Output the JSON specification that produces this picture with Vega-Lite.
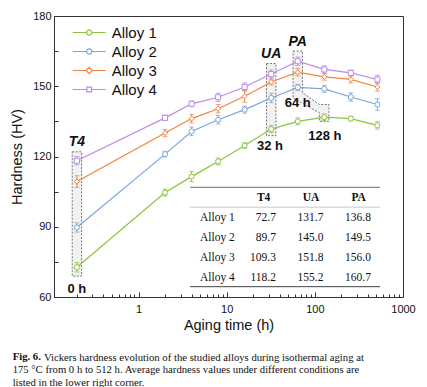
{
  "$schema": "https://vega.github.io/schema/vega-lite/v6.json",
  "width": 349,
  "height": 281,
  "autosize": {"type": "none"},
  "padding": {"left": 54, "top": 16, "right": 24, "bottom": 90},
  "background": "white",
  "config": {
    "font": "Liberation Sans",
    "view": {"stroke": "#333333", "strokeWidth": 1},
    "axis": {"domainColor": "#333333", "tickColor": "#333333", "labelColor": "#111111", "titleColor": "#111111", "grid": false, "labelFont": "Liberation Sans", "titleFont": "Liberation Sans", "titleFontWeight": "normal"}
  },
  "title": {
    "text": "Fig. 6.",
    "subtitle": [
      "\u200b\u00a0\u00a0\u00a0\u00a0\u00a0\u00a0\u00a0\u00a0\u00a0\u00a0\u2009 Vickers hardness evolution of the studied alloys during isothermal aging at",
      "175 °C from 0 h to 512 h. Average hardness values under different conditions are",
      "listed in the lower right corner."
    ],
    "orient": "bottom",
    "anchor": "start",
    "frame": "bounds",
    "font": "Liberation Serif",
    "fontSize": 10.7,
    "fontWeight": "bold",
    "color": "#111111",
    "subtitleFont": "Liberation Serif",
    "subtitleFontSize": 10.7,
    "subtitleColor": "#111111",
    "subtitleLineHeight": 12.5,
    "subtitlePadding": -9.5,
    "offset": 20,
    "dx": 3
  },
  "datasets": {
    "hardness": [
      {"alloy": "Alloy 1", "t": 0.2, "hv": 72.7, "err": 2.0},
      {"alloy": "Alloy 1", "t": 2, "hv": 104.6, "err": 1.5},
      {"alloy": "Alloy 1", "t": 4, "hv": 111.4, "err": 2.2},
      {"alloy": "Alloy 1", "t": 8, "hv": 117.9, "err": 1.5},
      {"alloy": "Alloy 1", "t": 16, "hv": 124.7, "err": 1.2},
      {"alloy": "Alloy 1", "t": 32, "hv": 131.7, "err": 1.5},
      {"alloy": "Alloy 1", "t": 64, "hv": 135.0, "err": 1.5},
      {"alloy": "Alloy 1", "t": 128, "hv": 136.8, "err": 1.4},
      {"alloy": "Alloy 1", "t": 256, "hv": 136.2, "err": 1.0},
      {"alloy": "Alloy 1", "t": 512, "hv": 133.3, "err": 1.6},
      {"alloy": "Alloy 2", "t": 0.2, "hv": 89.7, "err": 2.0},
      {"alloy": "Alloy 2", "t": 2, "hv": 121.0, "err": 1.2},
      {"alloy": "Alloy 2", "t": 4, "hv": 130.7, "err": 1.8},
      {"alloy": "Alloy 2", "t": 8, "hv": 135.7, "err": 1.8},
      {"alloy": "Alloy 2", "t": 16, "hv": 140.0, "err": 1.5},
      {"alloy": "Alloy 2", "t": 32, "hv": 145.0, "err": 2.0},
      {"alloy": "Alloy 2", "t": 64, "hv": 149.5, "err": 1.3},
      {"alloy": "Alloy 2", "t": 128, "hv": 148.9, "err": 1.5},
      {"alloy": "Alloy 2", "t": 256, "hv": 145.4, "err": 1.8},
      {"alloy": "Alloy 2", "t": 512, "hv": 142.2, "err": 2.5},
      {"alloy": "Alloy 3", "t": 0.2, "hv": 109.3, "err": 2.5},
      {"alloy": "Alloy 3", "t": 2, "hv": 130.0, "err": 1.5},
      {"alloy": "Alloy 3", "t": 4, "hv": 136.2, "err": 1.8},
      {"alloy": "Alloy 3", "t": 8, "hv": 140.4, "err": 1.8},
      {"alloy": "Alloy 3", "t": 16, "hv": 145.7, "err": 2.5},
      {"alloy": "Alloy 3", "t": 32, "hv": 151.8, "err": 1.2},
      {"alloy": "Alloy 3", "t": 64, "hv": 156.0, "err": 1.6},
      {"alloy": "Alloy 3", "t": 128, "hv": 154.0, "err": 1.4},
      {"alloy": "Alloy 3", "t": 256, "hv": 152.9, "err": 1.5},
      {"alloy": "Alloy 3", "t": 512, "hv": 149.7, "err": 1.8},
      {"alloy": "Alloy 4", "t": 0.2, "hv": 118.2, "err": 1.8},
      {"alloy": "Alloy 4", "t": 2, "hv": 136.5, "err": 1.2},
      {"alloy": "Alloy 4", "t": 4, "hv": 142.5, "err": 1.2},
      {"alloy": "Alloy 4", "t": 8, "hv": 145.3, "err": 1.8},
      {"alloy": "Alloy 4", "t": 16, "hv": 149.7, "err": 1.8},
      {"alloy": "Alloy 4", "t": 32, "hv": 155.2, "err": 1.8},
      {"alloy": "Alloy 4", "t": 64, "hv": 160.7, "err": 1.8},
      {"alloy": "Alloy 4", "t": 128, "hv": 157.2, "err": 1.5},
      {"alloy": "Alloy 4", "t": 256, "hv": 155.7, "err": 1.2},
      {"alloy": "Alloy 4", "t": 512, "hv": 152.9, "err": 1.8}
    ],
    "boxes": [
      {"box": "T4", "i": 1, "t": 0.177, "hv": 122.0},
      {"box": "T4", "i": 2, "t": 0.226, "hv": 122.0},
      {"box": "T4", "i": 3, "t": 0.226, "hv": 68.9},
      {"box": "T4", "i": 4, "t": 0.177, "hv": 68.9},
      {"box": "T4", "i": 5, "t": 0.177, "hv": 122.0},
      {"box": "UA", "i": 1, "t": 28.3, "hv": 159.7},
      {"box": "UA", "i": 2, "t": 36.2, "hv": 159.7},
      {"box": "UA", "i": 3, "t": 36.2, "hv": 128.9},
      {"box": "UA", "i": 4, "t": 28.3, "hv": 128.9},
      {"box": "UA", "i": 5, "t": 28.3, "hv": 159.7},
      {"box": "PA", "i": 1, "t": 56.6, "hv": 165.0},
      {"box": "PA", "i": 2, "t": 72.4, "hv": 165.0},
      {"box": "PA", "i": 3, "t": 72.4, "hv": 147.2},
      {"box": "PA", "i": 4, "t": 113.2, "hv": 142.2},
      {"box": "PA", "i": 5, "t": 144.6, "hv": 142.2},
      {"box": "PA", "i": 6, "t": 144.6, "hv": 135.0},
      {"box": "PA", "i": 7, "t": 113.2, "hv": 135.0},
      {"box": "PA", "i": 8, "t": 113.2, "hv": 138.6},
      {"box": "PA", "i": 9, "t": 56.6, "hv": 145.0},
      {"box": "PA", "i": 10, "t": 56.6, "hv": 165.0}
    ],
    "notes": [
      {"label": "T4", "kind": "condition", "t": 0.2, "hv": 126.0},
      {"label": "UA", "kind": "condition", "t": 32, "hv": 163.6},
      {"label": "PA", "kind": "condition", "t": 64, "hv": 168.9},
      {"label": "0 h", "kind": "time", "t": 0.2, "hv": 63.6},
      {"label": "32 h", "kind": "time", "t": 31, "hv": 124.3},
      {"label": "64 h", "kind": "time", "t": 64, "hv": 142.9},
      {"label": "128 h", "kind": "time", "t": 130, "hv": 128.9}
    ],
    "table": [
      {"row": "Alloy 1", "col": "T4", "v": 72.7},
      {"row": "Alloy 1", "col": "UA", "v": 131.7},
      {"row": "Alloy 1", "col": "PA", "v": 136.8},
      {"row": "Alloy 2", "col": "T4", "v": 89.7},
      {"row": "Alloy 2", "col": "UA", "v": 145.0},
      {"row": "Alloy 2", "col": "PA", "v": 149.5},
      {"row": "Alloy 3", "col": "T4", "v": 109.3},
      {"row": "Alloy 3", "col": "UA", "v": 151.8},
      {"row": "Alloy 3", "col": "PA", "v": 156.0},
      {"row": "Alloy 4", "col": "T4", "v": 118.2},
      {"row": "Alloy 4", "col": "UA", "v": 155.2},
      {"row": "Alloy 4", "col": "PA", "v": 160.7}
    ],
    "tableRows": [{"row": "Alloy 1"}, {"row": "Alloy 2"}, {"row": "Alloy 3"}, {"row": "Alloy 4"}],
    "tableCols": [{"col": "T4"}, {"col": "UA"}, {"col": "PA"}],
    "one": [{"k": 1}]
  },
  "layer": [
    {
      "encoding": {
        "x": {
          "field": "t", "type": "quantitative", "title": "Aging time (h)",
          "scale": {"type": "log", "domain": [0.11, 1000], "nice": false},
          "axis": {
            "values": [0.2, 0.3, 0.4, 0.5, 0.6, 0.7, 0.8, 0.9, 1, 2, 3, 4, 5, 6, 7, 8, 9, 10, 20, 30, 40, 50, 60, 70, 80, 90, 100, 200, 300, 400, 500, 600, 700, 800, 900, 1000],
            "labelExpr": "(datum.value == 1 || datum.value == 10 || datum.value == 100 || datum.value == 1000) ? format(datum.value, 'd') : ''",
            "tickSize": {"condition": {"test": "datum.value == 1 || datum.value == 10 || datum.value == 100 || datum.value == 1000", "value": -5}, "value": -3},
            "labelOverlap": false, "labelFlush": false, "labelFontSize": 11, "labelPadding": 11,
            "titleFontSize": 14.5, "titlePadding": 2
          }
        },
        "y": {
          "field": "hv", "type": "quantitative", "title": "Hardness (HV)",
          "scale": {"domain": [60, 180], "nice": false, "zero": false},
          "axis": {
            "values": [60, 75, 90, 105, 120, 135, 150, 165, 180],
            "labelExpr": "datum.value % 30 == 0 ? format(datum.value, 'd') : ''",
            "tickSize": -4, "labelOverlap": false, "labelFlush": false, "labelFontSize": 11, "labelPadding": 7,
            "titleFontSize": 14.5, "titlePadding": 8
          }
        }
      },
      "layer": [
        {
          "data": {"name": "boxes"},
          "mark": {"type": "line", "stroke": "#555555", "strokeWidth": 0.8, "strokeDash": [2, 1.5], "fill": "#f1f1f1"},
          "encoding": {"detail": {"field": "box"}, "order": {"field": "i", "type": "quantitative"}}
        },
        {
          "data": {"name": "hardness"},
          "mark": {"type": "line", "strokeWidth": 1.2},
          "encoding": {
            "color": {"field": "alloy", "type": "nominal", "scale": {"domain": ["Alloy 1", "Alloy 2", "Alloy 3", "Alloy 4"], "range": ["#8cc43c", "#7aa6dc", "#f5823c", "#b98de6"]}, "legend": null}
          }
        },
        {
          "data": {"name": "hardness"},
          "mark": {"type": "errorbar", "ticks": {"size": 5}, "thickness": 1},
          "encoding": {
            "yError": {"field": "err"},
            "color": {"field": "alloy", "type": "nominal", "scale": {"domain": ["Alloy 1", "Alloy 2", "Alloy 3", "Alloy 4"], "range": ["#8cc43c", "#7aa6dc", "#f5823c", "#b98de6"]}, "legend": null}
          }
        },
        {
          "data": {"name": "hardness"},
          "mark": {"type": "point", "filled": false, "fill": "white", "fillOpacity": 1, "opacity": 1, "size": 26, "strokeWidth": 1},
          "encoding": {
            "stroke": {"field": "alloy", "type": "nominal", "scale": {"domain": ["Alloy 1", "Alloy 2", "Alloy 3", "Alloy 4"], "range": ["#8cc43c", "#7aa6dc", "#f5823c", "#b98de6"]}, "legend": null},
            "shape": {"field": "alloy", "type": "nominal", "scale": {"domain": ["Alloy 1", "Alloy 2", "Alloy 3", "Alloy 4"], "range": ["circle", "circle", "diamond", "square"]}, "legend": null}
          }
        },
        {
          "data": {"name": "hardness"},
          "transform": [{"filter": "false"}],
          "mark": {"type": "point", "filled": false, "opacity": 1, "strokeWidth": 1.2},
          "encoding": {
            "stroke": {"field": "alloy", "type": "nominal", "scale": {"domain": ["Alloy 1", "Alloy 2", "Alloy 3", "Alloy 4"], "range": ["#8cc43c", "#7aa6dc", "#f5823c", "#b98de6"]},
              "legend": {"title": null, "orient": "top-left", "offset": 9, "symbolOffset": 18.7, "labelFont": "Liberation Sans", "labelFontSize": 15, "labelColor": "#111111", "symbolSize": 121, "symbolStrokeWidth": 1.2, "rowPadding": 3, "labelOffset": 15, "padding": 0}},
            "shape": {"field": "alloy", "type": "nominal",
              "scale": {"domain": ["Alloy 1", "Alloy 2", "Alloy 3", "Alloy 4"], "range": [
                "M-3,0H-0.47M0.47,0H3M0.47,0A0.47,0.47 0 1 1 -0.47,0A0.47,0.47 0 1 1 0.47,0Z",
                "M-3,0H-0.47M0.47,0H3M0.47,0A0.47,0.47 0 1 1 -0.47,0A0.47,0.47 0 1 1 0.47,0Z",
                "M-3,0H-0.58M0.58,0H3M0,-0.58L0.58,0L0,0.58L-0.58,0Z",
                "M-3,0H-0.42M0.42,0H3M-0.42,-0.42H0.42V0.42H-0.42Z"
              ]},
              "legend": {"title": null, "orient": "top-left", "offset": 9, "symbolOffset": 18.7, "labelFont": "Liberation Sans", "labelFontSize": 15, "labelColor": "#111111", "symbolSize": 121, "symbolStrokeWidth": 1.2, "rowPadding": 3, "labelOffset": 15, "padding": 0}}
          }
        },
        {
          "data": {"name": "notes"},
          "transform": [{"filter": "datum.kind == 'condition'"}],
          "mark": {"type": "text", "font": "Liberation Sans", "fontSize": 14, "fontWeight": "bold", "fontStyle": "italic", "color": "#111111", "baseline": "middle", "align": "center"},
          "encoding": {"text": {"field": "label"}}
        },
        {
          "data": {"name": "notes"},
          "transform": [{"filter": "datum.kind == 'time'"}],
          "mark": {"type": "text", "font": "Liberation Sans", "fontSize": 13, "fontWeight": "bold", "color": "#111111", "baseline": "middle", "align": "center"},
          "encoding": {"text": {"field": "label"}}
        }
      ],
      "resolve": {"scale": {"shape": "independent", "stroke": "independent"}}
    },
    {
      "encoding": {
        "x": {"field": "col", "type": "nominal", "axis": null,
          "scale": {"type": "band", "domain": ["label", "T4", "UA", "PA"], "paddingInner": 0, "paddingOuter": 0, "range": [{"expr": "width * 0.3897"}, {"expr": "width * 0.9341"}]}},
        "y": {"field": "row", "type": "nominal", "axis": null,
          "scale": {"type": "band", "domain": ["head", "Alloy 1", "Alloy 2", "Alloy 3", "Alloy 4"], "paddingInner": 0, "paddingOuter": 0, "range": [{"expr": "height * 0.6096"}, {"expr": "height * 0.9633"}]}}
      },
      "layer": [
        {
          "data": {"name": "one"},
          "mark": {"type": "rule", "color": "#8a8a8a", "strokeWidth": 1.2},
          "encoding": {
            "x": {"datum": "label", "type": "nominal", "bandPosition": 0},
            "x2": {"datum": "PA", "bandPosition": 1},
            "y": {"datum": "head", "type": "nominal", "bandPosition": 0}
          }
        },
        {
          "data": {"name": "one"},
          "mark": {"type": "rule", "color": "#c8c8c8", "strokeWidth": 1},
          "encoding": {
            "x": {"datum": "label", "type": "nominal", "bandPosition": 0},
            "x2": {"datum": "PA", "bandPosition": 1},
            "y": {"datum": "Alloy 1", "type": "nominal", "bandPosition": 0}
          }
        },
        {
          "data": {"name": "one"},
          "mark": {"type": "rule", "color": "#444444", "strokeWidth": 1},
          "encoding": {
            "x": {"datum": "label", "type": "nominal", "bandPosition": 0},
            "x2": {"datum": "PA", "bandPosition": 1},
            "y": {"datum": "Alloy 4", "type": "nominal", "bandPosition": 1}
          }
        },
        {
          "data": {"name": "tableCols"},
          "mark": {"type": "text", "font": "Liberation Serif", "fontSize": 11.5, "fontWeight": "bold", "color": "#111111", "align": "center", "baseline": "middle", "dy": 1},
          "encoding": {
            "x": {"field": "col", "type": "nominal", "bandPosition": 0.55},
            "y": {"datum": "head", "type": "nominal"},
            "text": {"field": "col"}
          }
        },
        {
          "data": {"name": "tableRows"},
          "mark": {"type": "text", "font": "Liberation Serif", "fontSize": 11.5, "color": "#111111", "align": "left", "baseline": "middle", "dy": 1},
          "encoding": {
            "x": {"datum": "label", "type": "nominal", "bandPosition": 0.21},
            "y": {"field": "row", "type": "nominal"},
            "text": {"field": "row"}
          }
        },
        {
          "data": {"name": "table"},
          "mark": {"type": "text", "font": "Liberation Serif", "fontSize": 11.5, "color": "#111111", "align": "right", "baseline": "middle", "dy": 1},
          "encoding": {
            "x": {"field": "col", "type": "nominal", "bandPosition": 0.81},
            "y": {"field": "row", "type": "nominal"},
            "text": {"field": "v", "type": "quantitative", "format": ".1f"}
          }
        }
      ]
    }
  ],
  "resolve": {"scale": {"x": "independent", "y": "independent"}, "axis": {"x": "independent", "y": "independent"}}
}
